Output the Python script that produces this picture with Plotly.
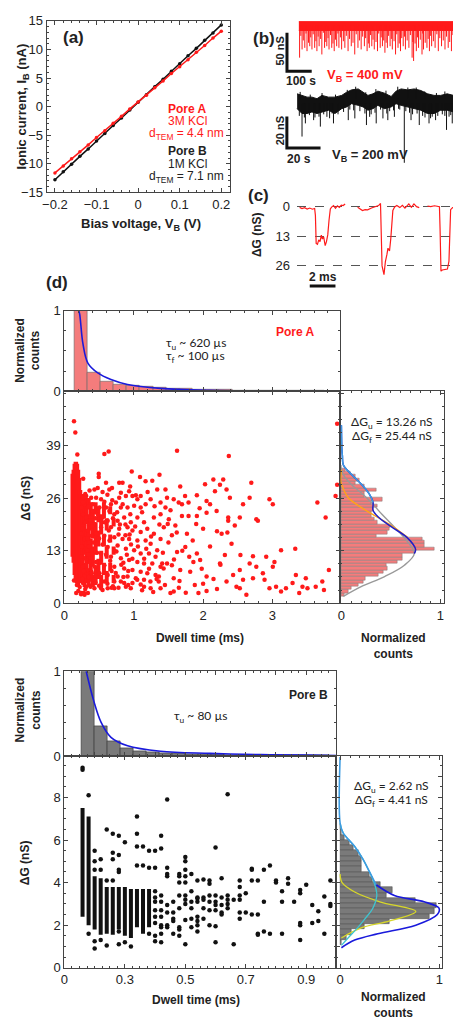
import plotly.graph_objects as go

W, H = 461, 1020
SANS = "Liberation Sans, Arial, sans-serif"
CAL = "Lato, Open Sans, sans-serif"
FRAME = "#444"

# ---------------- DATA ----------------
# (a) I-V curves
bias_V = [-0.2, -0.18, -0.16, -0.14, -0.12, -0.1, -0.08, -0.06, -0.04, -0.02, 0.0,
          0.02, 0.04, 0.06, 0.08, 0.1, 0.12, 0.14, 0.16, 0.18, 0.2]
poreA_I = [-11.6, -10.4, -9.1, -7.9, -6.7, -5.4, -4.2, -2.9, -1.7, -0.4, 0.8,
           2.0, 3.3, 4.5, 5.8, 7.0, 8.2, 9.5, 10.7, 12.0, 13.2]
poreB_I = [-12.8, -11.4, -10.1, -8.7, -7.4, -6.0, -4.7, -3.3, -2.0, -0.6, 0.75,
           2.1, 3.5, 4.8, 6.2, 7.5, 8.9, 10.2, 11.6, 12.9, 14.3]

# (b) red trace, 400 mV (time s, conductance change nS)
red_deep_t = [3, 13, 24, 33, 44, 53, 64, 73, 82, 93, 104, 113, 122, 133, 143, 153, 162, 173, 186, 199,
              212, 226, 239, 252, 265, 276, 285, 295, 305, 318, 329, 338, 348, 358, 369, 378, 391, 401, 411, 422,
              431, 445, 458, 464, 475, 484, 498, 504, 518, 528, 537, 551, 564, 577, 591, 604, 617, 630, 640, 648]
red_deep_g = [-46.4, -35.7, -33.6, -37.9, -31.5, -35.7, -33.6, -37.9, -31.5, -42.2, -33.6, -31.5, -35.7, -33.6, -37.9, -31.5, -33.6, -35.7, -33.6, -37.9,
              -31.5, -42.2, -33.6, -35.7, -31.5, -37.9, -33.6, -31.5, -35.7, -37.9, -33.6, -31.5, -40.0, -33.6, -31.5, -35.7, -42.2, -33.6, -37.9, -31.5,
              -35.7, -33.6, -46.4, -50.7, -37.9, -33.6, -42.2, -35.7, -33.6, -37.9, -31.5, -33.6, -37.9, -31.5, -35.7, -33.6, -37.9, -42.2, -35.7, -46.4]
red_shallow_t = [8, 18, 29, 39, 48, 58, 69, 78, 88, 99, 109, 118, 128, 138, 148, 158, 168, 180, 192, 205,
                 219, 232, 245, 258, 270, 281, 290, 300, 312, 323, 333, 343, 353, 363, 374, 385, 396, 406, 416, 427,
                 438, 451, 461, 470, 480, 491, 501, 511, 523, 533, 544, 558, 570, 584, 597, 610, 623, 635, 645]
red_shallow_g = [-18, -24, -15, -27, -20, -16, -25, -19, -22, -14, -26, -21, -17, -28, -23, -15, -20, -25, -18, -22,
                 -27, -16, -24, -19, -21, -28, -17, -23, -26, -15, -20, -24, -27, -18, -22, -25, -16, -28, -21, -19,
                 -24, -17, -26, -28, -20, -23, -15, -27, -22, -18, -25, -16, -21, -24, -19, -26, -17, -23, -20]
red_band_t = [0, 650]
red_band_top = [0.5, 0.5]
red_band_bot = [-11, -11]

# (b) black trace, 200 mV
blk_t = [0.2, 3.1, 6.1, 9.0, 12.0, 14.9, 18.8, 22.7, 26.7, 29.6, 32.5, 36.5, 39.4, 42.3, 45.3,
         48.2, 52.1, 56.1, 59.0, 62.0, 65.9, 69.8, 73.7, 77.7, 81.6, 85.5, 89.4, 93.3, 97.2]
blk_top = [0, -1.0, -2.1, -2.1, -3.1, -1.0, -2.1, -2.1, -1.0, 1.0, 2.5, 3.1, 1.0, -1.0, 0,
           1.7, 0.4, -1.7, 1.7, 3.1, 2.5, 3.1, 2.1, 0, -1.0, -1.0, 0, -1.0, -2.1]
blk_bot = [-9.4, -12.5, -12.5, -11.5, -12.5, -11.5, -10.4, -12.5, -9.4, -8.3, -6.25, -7.3, -8.3, -10.4, -9.4,
           -7.3, -9.4, -8.3, -6.25, -7.3, -8.3, -9.4, -10.4, -12.5, -12.5, -10.4, -10.4, -11.5, -10.4]
blk_spike_t = [3.1, 5.1, 10.0, 14.0, 17.9, 21.8, 30.6, 34.5, 41.4, 43.3, 47.2, 51.2, 54.1, 58.0, 63.9,
               67.9, 72.8, 78.6, 82.5, 89.0, 92.4, 96.2]
blk_spike_g = [-27.1, -18.75, -16.7, -20.8, -14.6, -18.75, -16.7, -15.6, -19.8, -14.6, -18.75, -15.6, -16.7, -14.6, -43.75,
               -16.7, -19.8, -18.75, -16.7, -22.9, -18.75, -15.6]
blk_noise_t = [1.5, 4.5, 7.5, 10.8, 13.2, 16.0, 19.5, 21.0, 24.5, 27.8, 31.5, 33.8, 37.5, 40.5, 44.2, 46.5, 49.8, 53.5, 55.2,
               57.5, 60.5, 61.2, 64.8, 67.0, 68.8, 71.5, 74.8, 76.2, 79.5, 80.5, 83.8, 86.5, 88.0, 90.5, 91.5, 94.5, 95.5]
blk_noise_g = [-14, -15, -13.5, -15, -14.5, -13, -15.5, -12.5, -13, -11.5, -10, -10.5, -11, -12.5, -13, -12, -10, -12.5, -11,
               -10.5, -9.5, -10, -11, -12, -13, -12.5, -14, -15, -15.5, -14.5, -14, -13, -14, -14.5, -13.5, -12.5, -13.5]
blk_up_t = [2, 8, 15, 23, 30, 35, 41, 47, 53, 60, 66, 71, 76, 83, 88, 94]
blk_up_g = [1.2, -0.5, 0.5, -0.5, 2.5, 4.5, 1, 3, 2, 4.5, 4, 4, 1.5, 0.5, 1.5, 0.5]

# (c) single events (time ms, ΔG nS)
ev1_t = [0.21, 0.4, 0.6, 0.8, 1.0, 1.2, 1.38, 1.44, 1.5, 1.6, 1.7, 1.8, 1.9, 1.98, 2.08, 2.2, 2.3, 2.4, 2.5, 2.6,
         2.7, 2.85, 3.0, 3.15, 3.3, 3.45, 3.6, 3.75]
ev1_g = [0.5, 1.0, 0.6, 1.2, 0.8, 1.3, 1.0, 4, 16.2, 16.6, 14.7, 15.4, 12.6, 14.3, 13.3, 17.2, 15.4, 12.5, 6, 1.2,
         0.4, -0.3, 0.9, -0.2, 0.5, -0.5, -0.3, -1.0]
ev2_t = [4.72, 4.9, 5.1, 5.3, 5.5, 5.8, 6.1, 6.35, 6.5, 6.56, 6.62, 6.77, 6.88, 7.0, 7.08, 7.2, 7.3, 7.46, 7.6, 7.77,
         8.0, 8.2, 8.4, 8.7, 8.9, 9.1, 9.3, 9.51]
ev2_g = [0.4, 1.1, 1.85, 1.5, 1.6, 0.8, 0.3, -0.3, -1.2, 8, 26, 29.8, 24.1, 21, 18.3, 19.5, 14, 1.8, 0.3, -0.3,
         0.6, -0.4, 0.8, -1.0, 0.5, -1.0, 0.2, 0.6]
ev3_t = [10.15, 10.4, 10.7, 10.9, 11.08, 11.13, 11.2, 11.3, 11.5, 11.7, 11.82, 11.95, 12.1, 12.3, 12.5, 12.7, 12.85]
ev3_g = [-0.1, 0.2, -0.2, 0.1, 0.2, 10, 28.3, 27.8, 27.6, 27.4, 24, 1.5, 0.6, 0.8, 1.1, 1.4, 1.8]

# (d) Pore A: dwell-time histogram (normalized)
histA_t_start = 0.138
histA_t_width = 0.19
histA_counts = [1.0, 0.235, 0.125, 0.09, 0.07, 0.055, 0.045, 0.04, 0.03, 0.025, 0.02, 0.018, 0.015, 0.012,
                0.01, 0.008, 0.006, 0.005, 0.004, 0.003]
fitA_t = [0.205, 0.219, 0.267, 0.338, 0.481, 0.671, 0.91, 1.386, 2.1, 3.0, 3.98]
fitA_c = [1.0, 0.96, 0.59, 0.35, 0.228, 0.146, 0.085, 0.037, 0.012, 0.003, 0.0]

# Pore A: ΔG histogram (bottom to top)
ghistA_start = 2.1
ghistA_width = 0.813
ghistA_counts = [0.03, 0.07, 0.10, 0.17, 0.22, 0.24, 0.37, 0.42, 0.47, 0.45, 0.57, 0.62, 0.62, 0.75, 0.94, 0.84,
                 0.84, 0.82, 0.353, 0.47, 0.49, 0.50, 0.36, 0.33, 0.30, 0.30, 0.32, 0.36, 0.30, 0.41, 0.237, 0.237,
                 0.353, 0.23, 0.137, 0.187, 0.137, 0.087, 0.037, 0.003]
gfitA_gray_c = [0.02, 0.2, 0.437, 0.637, 0.737, 0.66, 0.537, 0.41, 0.303, 0.2, 0.103, 0.02, 0.0]
gfitA_gray_g = [1.7, 4.1, 6.6, 9.4, 12.3, 15.5, 18.8, 22.0, 24.9, 27.3, 29.3, 31.8, 33.5]
gfitA_blue_c = [0.0, 0.005, 0.01, 0.02, 0.1, 0.2, 0.28, 0.32, 0.32, 0.37, 0.5, 0.67, 0.75, 0.737]
gfitA_blue_g = [44.0, 38.0, 36.5, 34.2, 31.9, 29.5, 27.1, 25.0, 23.0, 21.4, 19.0, 16.1, 13.3, 12.3]
gfitA_orange_c = [0.0, -0.005, 0.003, 0.07, 0.2, 0.37, 0.53, 0.67]
gfitA_orange_g = [33.0, 30.0, 29.3, 26.1, 23.7, 21.2, 18.8, 16.3]

# Pore A scatter: dense core columns (dwell ms, ΔG range nS)
A_core_t = [0.12, 0.135, 0.15, 0.165, 0.18, 0.195, 0.21, 0.225, 0.24]
A_core_lo = [11.5, 10, 7, 5.5, 5, 4.5, 5, 5.5, 5]
A_core_hi = [32, 33, 34.5, 35, 34.5, 33, 31, 28, 27]
# Pore A scatter: dense textured region (column segments)
A_mid_t = [0.26, 0.29, 0.29, 0.32, 0.32, 0.35, 0.35, 0.35, 0.38, 0.38, 0.41, 0.41, 0.41,
           0.45, 0.45, 0.45, 0.49, 0.49, 0.49, 0.53, 0.53, 0.53, 0.57, 0.57, 0.57,
           0.61, 0.61, 0.61, 0.66, 0.66, 0.66, 0.71, 0.71, 0.71]
A_mid_lo = [5, 4, 12, 5, 20, 4, 10, 24, 6, 18, 4, 9, 16,
            5, 12, 22, 6, 14, 20, 4, 10, 17, 7, 14, 21,
            5, 11, 18, 8, 15, 22, 5, 12, 19]
A_mid_hi = [27, 10, 26, 18, 26, 8, 22, 26, 16, 25, 7, 14, 23,
            9, 20, 25, 11, 18, 24, 7, 13, 22, 10, 17, 25,
            8, 14, 21, 10, 17, 24, 7, 14, 21]
# Pore A scatter: individual events
A_pts = [
    (0.457, 26.1), (0.529, 25.7), (0.576, 25.1), (0.41, 24.5), (0.505, 23.7), (0.6, 23.7), (0.671, 24.5), (0.743, 24.9),
    (0.79, 26.1), (0.886, 26.5), (0.981, 26.5), (1.052, 25.7), (0.648, 22.8), (0.719, 22.0), (0.814, 23.7), (0.91, 23.7),
    (1.005, 24.1), (1.1, 23.7), (0.481, 22.0), (0.552, 21.2), (0.624, 20.4), (0.767, 20.4), (0.862, 21.2), (0.957, 20.0),
    (1.052, 21.2), (1.148, 20.0), (0.433, 19.6), (0.529, 18.8), (0.671, 18.8), (0.79, 18.4), (0.91, 18.8), (0.981, 18.0),
    (1.1, 17.6), (1.195, 18.4), (1.29, 17.2), (0.457, 17.2), (0.576, 16.7), (0.719, 16.3), (0.838, 15.9), (0.933, 15.9),
    (1.052, 15.5), (1.171, 15.5), (1.243, 14.7), (0.481, 14.7), (0.624, 13.9), (0.767, 14.3), (0.886, 13.5), (1.005, 13.1),
    (1.1, 12.3), (1.219, 12.3), (1.314, 11.5), (0.529, 12.3), (0.671, 11.5), (0.814, 11.1), (0.933, 10.7), (1.052, 10.2),
    (1.148, 9.8), (1.267, 9.8), (0.457, 10.2), (0.576, 9.4), (0.719, 9.0), (0.862, 8.6), (0.981, 8.2), (1.1, 7.8),
    (1.195, 7.4), (1.314, 7.0), (0.505, 7.4), (0.624, 7.0), (0.767, 6.6), (0.91, 6.6), (1.029, 6.2), (1.148, 5.8),
    (0.386, 7.8), (0.433, 5.8), (0.576, 5.4), (0.719, 5.4), (0.862, 5.0), (0.981, 5.0), (1.1, 4.6), (1.243, 3.7),
    (1.362, 6.6), (1.41, 9.8), (1.338, 13.1), (1.386, 15.9), (1.433, 18.8), (1.29, 21.2), (1.386, 22.0), (1.457, 23.7),
    (0.267, 26.1), (0.314, 26.5), (0.386, 26.1), (0.29, 24.5), (0.338, 23.7), (0.41, 22.8), (0.267, 22.0), (0.314, 21.2),
    (0.376, 20.4), (0.281, 19.2), (0.338, 18.0), (0.395, 16.7), (0.29, 15.9), (0.362, 15.1), (0.267, 13.9), (0.329, 13.1),
    (0.395, 12.3), (0.29, 11.1), (0.362, 10.2), (0.267, 9.0), (0.329, 8.2), (0.395, 7.4), (0.29, 6.6), (0.362, 5.8),
    (0.267, 5.0), (0.314, 4.1), (0.243, 11.5), (0.243, 17.2), (0.243, 23.7),
    (0.26, 18.5), (0.3, 20.0), (0.33, 16.0), (0.35, 12.0), (0.28, 8.0), (0.32, 10.5), (0.36, 14.0), (0.4, 19.0),
    (0.42, 15.0), (0.44, 9.0), (0.27, 25.0), (0.3, 27.0), (0.35, 24.0), (0.45, 21.0), (0.47, 12.5), (0.5, 16.0),
    (0.52, 10.0), (0.55, 14.5), (0.58, 20.0), (0.6, 12.0), (0.65, 15.5), (0.68, 8.0), (0.7, 21.0), (0.75, 12.8),
    (0.8, 19.5), (0.85, 10.0), (0.9, 12.0), (0.95, 22.0), (0.25, 14.0), (0.26, 6.0), (0.3, 3.5), (0.35, 6.5),
    (0.4, 4.5), (0.45, 5.0), (0.5, 4.3), (0.55, 3.3), (0.62, 4.8), (0.7, 4.2), (0.78, 3.8), (0.85, 6.5),
    (0.24, 2.2), (0.28, 2.6), (0.2, 3.0), (0.17, 2.5), (0.22, 4.0), (0.18, 4.5),
    (0.138, 45.0), (0.157, 42.2), (0.186, 36.8), (0.576, 36.9), (0.638, 37.5), (0.495, 32.0), (0.495, 31.2), (0.971, 32.6),
    (1.09, 31.2), (1.371, 31.8), (0.838, 29.8), (0.79, 29.8), (0.6, 29.8), (0.686, 28.5), (1.267, 30.3), (1.17, 30.2),
    (0.948, 28.9), (0.271, 30.8), (0.433, 28.1), (0.362, 27.9), (0.48, 28.5), (0.648, 28.1), (0.814, 27.3), (0.933, 27.7),
    (1.03, 26.7), (1.1, 26.5), (0.138, 5.6), (0.29, 2.1), (0.338, 2.5), (0.243, 2.5),
    (0.433, 3.7), (0.529, 3.7), (0.624, 3.7), (0.719, 3.7), (0.886, 4.1), (0.957, 3.7), (1.05, 5.8), (1.148, 4.1),
    (1.24, 5.4), (1.386, 3.7), (1.36, 5.4), (0.376, 4.1), (0.814, 5.4),
    (1.338, 28.1), (1.457, 28.1), (1.67, 28.9), (2.028, 29.4), (1.91, 26.7), (2.05, 25.3), (1.243, 25.7), (1.171, 24.5),
    (1.48, 26.1), (1.386, 24.9), (1.576, 25.7), (1.648, 24.9), (1.695, 24.5), (1.79, 24.9), (1.695, 21.6), (1.79, 21.6),
    (1.91, 21.6), (1.505, 20.8), (1.6, 19.2), (1.49, 19.6), (1.9, 19.6), (2.0, 18.4), (2.05, 22.4), (1.767, 17.2),
    (1.743, 13.9), (1.91, 12.3), (1.957, 10.7), (1.624, 12.7), (1.48, 9.8), (1.386, 9.0), (1.55, 9.4), (1.43, 8.6),
    (1.86, 10.2), (2.05, 6.6), (1.814, 7.8), (1.67, 8.2), (1.576, 6.2), (1.529, 2.5), (1.576, 2.9), (1.933, 2.5),
    (1.624, 37.7),
    (2.148, 30.6), (2.29, 30.6), (2.243, 29.3), (2.338, 28.1), (2.171, 27.7), (2.386, 26.1), (2.1, 24.5), (2.195, 22.8),
    (2.362, 21.2), (2.362, 20.4), (2.457, 19.2), (2.529, 21.2), (2.576, 24.5), (2.671, 26.1), (2.695, 29.8), (2.79, 20.4),
    (2.767, 20.8), (2.267, 17.2), (2.41, 14.7), (2.314, 11.9), (2.243, 9.8), (2.433, 7.0), (2.338, 5.4), (2.481, 4.1),
    (2.529, 3.7), (2.576, 5.8), (2.624, 2.1), (2.371, 36.4), (2.529, 8.2), (2.671, 9.8), (2.767, 9.0), (2.886, 5.8),
    (2.957, 3.7), (3.052, 4.1), (3.124, 2.9), (3.195, 3.7), (3.29, 5.0), (3.338, 7.0), (3.386, 2.5), (3.433, 4.1),
    (3.481, 6.2), (3.505, 3.7), (3.624, 4.1), (3.719, 5.4), (3.743, 3.3), (3.814, 8.2), (3.767, 21.2), (3.91, 26.5),
    (3.933, 29.3), (3.648, 24.9), (3.329, 13.5), (3.124, 13.1), (3.005, 9.0), (3.029, 10.2), (2.91, 11.5), (2.719, 11.6),
    (2.538, 11.9), (2.957, 25.7), (3.005, 24.5), (2.862, 7.4), (2.719, 6.2), (3.933, 44.4),
    (2.2, 17.8), (2.35, 17.5), (2.1, 14.0), (2.0, 4.8), (2.25, 9.5), (2.15, 6.0), (2.05, 3.0), (2.2, 3.5),
    (1.02, 19.0), (1.06, 14.0), (1.12, 22.5), (1.15, 11.0), (1.2, 27.5), (1.22, 8.5), (1.25, 16.5), (1.3, 24.0),
    (1.33, 6.0), (1.37, 19.5), (1.42, 12.5), (1.45, 4.5), (1.5, 15.0), (1.53, 23.0), (1.58, 10.8), (1.62, 17.5),
    (1.66, 5.5), (1.7, 13.0), (1.74, 26.5), (1.8, 11.5), (1.85, 15.5), (1.88, 4.5), (1.95, 23.5), (1.98, 8.5),
    (1.12, 3.2), (1.28, 2.8), (1.65, 3.8), (1.75, 2.6), (1.18, 13.5), (1.55, 16.8),
    (0.62, 26.8), (0.66, 10.5), (0.72, 13.0), (0.74, 7.5), (0.78, 17.0), (0.82, 9.5), (0.84, 24.5), (0.88, 16.8),
    (0.92, 8.0), (0.96, 14.5), (0.98, 11.0), (0.64, 18.0), (0.69, 25.5), (0.76, 22.5), (0.88, 19.5), (0.94, 17.0),
    (0.68, 3.8), (0.92, 4.5), (0.6, 7.5), (0.55, 27.5),
]

# (d) Pore B: dwell-time histogram
histB_t_start = 0.155
histB_t_width = 0.043
histB_counts = [1.0, 0.35, 0.176, 0.09, 0.06, 0.045, 0.035, 0.03, 0.022, 0.018, 0.015, 0.012, 0.01, 0.008,
                0.006, 0.005, 0.004, 0.003, 0.003, 0.002]
fitB_t = [0.172, 0.197, 0.221, 0.254, 0.309, 0.418, 0.582, 0.75, 0.9, 1.0]
fitB_c = [1.0, 0.65, 0.40, 0.22, 0.12, 0.055, 0.03, 0.015, 0.01, 0.005]

# Pore B: ΔG histogram (bottom to top)
ghistB_start = 1.19
ghistB_width = 0.247
ghistB_counts = [0.013, 0.06, 0.11, 0.25, 0.50, 0.90, 0.95, 0.97, 0.76, 0.47, 0.53, 0.41, 0.33, 0.30, 0.22,
                 0.21, 0.21, 0.18, 0.13, 0.097, 0.047, 0.013, 0.005]
gfitB_blue_c = [0.013, 0.147, 0.38, 0.763, 0.98, 0.997, 0.847, 0.547, 0.363]
gfitB_blue_g = [0.94, 1.3, 1.6, 2.0, 2.5, 2.8, 3.1, 3.4, 3.9]
gfitB_lblue_c = [0.363, 0.297, 0.23, 0.147, 0.03, 0.0, 0.0]
gfitB_lblue_g = [3.9, 4.5, 5.1, 5.7, 6.34, 6.8, 9.9]
gfitB_cyan_c = [0.0, 0.03, 0.147, 0.23, 0.297, 0.35, 0.37, 0.33, 0.25, 0.18, 0.08, 0.013]
gfitB_cyan_g = [6.8, 6.34, 5.7, 5.1, 4.5, 3.9, 3.4, 2.8, 2.3, 1.9, 1.4, 1.05]
gfitB_yellow_c = [0.0, 0.02, 0.147, 0.4, 0.763, 0.5, 0.213, 0.013]
gfitB_yellow_g = [4.4, 4.0, 3.56, 3.1, 2.64, 2.2, 1.87, 1.4]

# Pore B scatter: dense columns
B_dense_t = [0.16, 0.18, 0.20, 0.22, 0.24, 0.26, 0.28, 0.30, 0.32, 0.34, 0.36, 0.38]
B_dense_lo = [2.4, 2.0, 1.8, 1.55, 1.6, 1.55, 1.8, 1.5, 1.4, 1.9, 1.6, 1.9]
B_dense_hi = [7.5, 7.1, 4.3, 4.2, 3.8, 3.8, 3.8, 3.8, 3.7, 3.7, 3.7, 3.7]
# Pore B scatter: sparse events per dwell-time column
B_col_t = [0.16, 0.18, 0.20, 0.22, 0.24, 0.26, 0.28, 0.30, 0.32, 0.34, 0.36, 0.38, 0.40, 0.42,
           0.44, 0.46, 0.48, 0.50, 0.52, 0.54, 0.56, 0.58, 0.60, 0.62, 0.64, 0.66, 0.68, 0.70,
           0.72, 0.74, 0.76, 0.78, 0.80, 0.82, 0.84, 0.86, 0.88, 0.90, 0.92, 0.94, 0.96, 0.98]
B_col_g = [[9.4, 9.3], [8.1, 1.6], [5.5, 5.0, 4.6, 1.25, 0.9], [5.1, 4.6, 1.3], [6.5, 4.1, 1.05],
           [6.3, 5.4, 5.1, 4.1], [6.2, 5.3, 4.6, 4.5, 1.7, 1.1], [5.9, 1.2], [1.0], [7.1, 6.3, 5.7, 4.8],
           [5.7, 4.8], [5.5, 4.7, 1.6], [5.5, 4.7, 3.6, 3.3, 3.1, 2.7, 2.4, 2.1, 1.5, 1.25],
           [6.2, 5.6, 3.4, 3.1, 2.7, 2.4, 2.0, 1.9, 1.6, 1.2], [7.9, 4.7, 4.4, 4.3, 2.95, 2.6, 2.0, 1.9],
           [3.1, 2.6, 2.3, 2.2, 1.6], [4.4, 4.3, 4.0, 3.4, 2.8, 1.9, 1.8, 1.5],
           [5.2, 5.0, 4.6, 4.3, 4.0, 3.4, 3.2, 3.0, 2.25, 1.1], [4.4, 3.6, 3.1, 2.8, 2.3, 1.9],
           [4.1, 3.3, 3.25, 3.1, 2.4, 2.2, 2.0, 1.7], [4.15, 3.3, 3.2, 2.8, 2.3], [4.1, 3.95, 3.4, 3.1, 2.7, 2.0],
           [5.65, 3.4, 3.1, 2.95, 2.7, 1.95, 1.2], [4.2, 3.3, 2.95, 2.6, 2.5], [8.15, 3.4, 3.2, 3.0, 2.8],
           [3.2, 1.1], [4.1, 3.8, 3.4, 3.2, 2.6, 2.3], [3.5, 2.6], [4.65, 4.6, 4.1, 2.5], [4.1, 2.5, 1.6, 1.55],
           [4.6, 3.1, 1.7], [4.8, 1.6], [4.1, 4.0], [3.6, 3.1, 1.6], [4.2, 3.95], [3.1], [3.65, 3.5, 2.1, 2.0, 1.3],
           [3.9], [2.95, 2.1], [2.65, 2.2], [3.35, 1.6], [4.1, 3.0, 2.9]]

# scale bars (data units)
red_bar_s, red_bar_ns = 100, 50
blk_bar_s, blk_bar_ns = 20, 20
ev_bar_ms = 2

# ---------------- HELPERS ----------------
def dx(a, b):
    return [a / W, b / W]

def dy(top, bottom):
    return [1 - bottom / H, 1 - top / H]

def fax(domain, rng, anchor, labels=True, minor=None, **kw):
    d = dict(domain=domain, range=rng, anchor=anchor, showline=True, linecolor=FRAME, linewidth=1,
             mirror="ticks", ticks="inside", ticklen=4, tickwidth=1, tickcolor=FRAME, showgrid=False,
             zeroline=False, showticklabels=labels,
             tickfont=dict(family=SANS, size=13, color="#222"))
    if minor is not None:
        d["minor"] = dict(ticks="inside", ticklen=2, tickcolor=FRAME, dtick=minor, showgrid=False)
    d.update(kw)
    return d

def hidden(domain, rng, anchor):
    return dict(domain=domain, range=rng, anchor=anchor, visible=False, showgrid=False, zeroline=False)

def segs(ts, lo, hi):
    xs, ys = [], []
    for t, a, b in zip(ts, lo, hi):
        xs += [t, t, None]
        ys += [a, b, None]
    return xs, ys

def ann(text, x, y, size=12, color="#222", bold=False, angle=0, family=SANS, xanchor="center"):
    return dict(text=f"<b>{text}</b>" if bold else text, x=x / W, y=1 - y / H, xref="paper", yref="paper",
                showarrow=False, textangle=angle, xanchor=xanchor, yanchor="middle",
                font=dict(size=size, color=color, family=family))

RED = "#ff1a1a"
fig = go.Figure()

# ---- (a) ----
fig.add_trace(go.Scatter(x=bias_V, y=poreB_I, mode="lines+markers", line=dict(color="#111", width=1.5),
                         marker=dict(size=3.5, color="#111"), xaxis="x", yaxis="y"))
fig.add_trace(go.Scatter(x=bias_V, y=poreA_I, mode="lines+markers", line=dict(color=RED, width=1.5),
                         marker=dict(size=3.5, color=RED), xaxis="x", yaxis="y"))

# ---- (b) red ----
fig.add_trace(go.Scatter(x=red_band_t, y=red_band_top, mode="lines", line=dict(color=RED, width=1),
                         xaxis="x2", yaxis="y2"))
fig.add_trace(go.Scatter(x=red_band_t, y=red_band_bot, mode="lines", line=dict(color=RED, width=1),
                         fill="tonexty", fillcolor=RED, xaxis="x2", yaxis="y2"))
sx, sy = segs(red_shallow_t, [-5] * len(red_shallow_t), red_shallow_g)
fig.add_trace(go.Scatter(x=sx, y=sy, mode="lines", line=dict(color=RED, width=1), xaxis="x2", yaxis="y2"))
sx, sy = segs(red_deep_t, [-5] * len(red_deep_t), red_deep_g)
fig.add_trace(go.Scatter(x=sx, y=sy, mode="lines", line=dict(color=RED, width=1), xaxis="x2", yaxis="y2"))
rb_x0, rb_y0 = -48, -64
fig.add_trace(go.Scatter(x=[rb_x0, rb_x0, rb_x0 + red_bar_s], y=[rb_y0 + red_bar_ns, rb_y0, rb_y0],
                         mode="lines", line=dict(color="#111", width=3), xaxis="x2", yaxis="y2"))

# ---- (b) black ----
fig.add_trace(go.Scatter(x=blk_t, y=blk_top, mode="lines", line=dict(color="#111", width=1),
                         xaxis="x3", yaxis="y3"))
fig.add_trace(go.Scatter(x=blk_t, y=blk_bot, mode="lines", line=dict(color="#111", width=1),
                         fill="tonexty", fillcolor="#111", xaxis="x3", yaxis="y3"))
sx, sy = segs(blk_noise_t, [-6] * len(blk_noise_t), blk_noise_g)
fig.add_trace(go.Scatter(x=sx, y=sy, mode="lines", line=dict(color="#111", width=1), xaxis="x3", yaxis="y3"))
sx, sy = segs(blk_up_t, [-3] * len(blk_up_t), blk_up_g)
fig.add_trace(go.Scatter(x=sx, y=sy, mode="lines", line=dict(color="#111", width=1), xaxis="x3", yaxis="y3"))
sx, sy = segs(blk_spike_t, [-6] * len(blk_spike_t), blk_spike_g)
fig.add_trace(go.Scatter(x=sx, y=sy, mode="lines", line=dict(color="#111", width=1), xaxis="x3", yaxis="y3"))
bb_x0, bb_y0 = -5.9, -34.4
fig.add_trace(go.Scatter(x=[bb_x0, bb_x0, bb_x0 + blk_bar_s], y=[bb_y0 + blk_bar_ns, bb_y0, bb_y0],
                         mode="lines", line=dict(color="#111", width=3), xaxis="x3", yaxis="y3"))

# ---- (c) ----
for et, eg in ((ev1_t, ev1_g), (ev2_t, ev2_g), (ev3_t, ev3_g)):
    fig.add_trace(go.Scatter(x=et, y=eg, mode="lines", line=dict(color=RED, width=1.2), xaxis="x4", yaxis="y4"))
fig.add_trace(go.Scatter(x=[1.0, 1.0 + ev_bar_ms], y=[34.8, 34.8], mode="lines",
                         line=dict(color="#111", width=3), xaxis="x4", yaxis="y4"))

# ---- (d) Pore A ----
cA = [histA_t_start + histA_t_width * (i + 0.5) for i in range(len(histA_counts))]
fig.add_trace(go.Bar(x=cA, y=histA_counts, width=histA_t_width, marker=dict(color="#f47c7c",
                     line=dict(color="#666", width=0.6)), xaxis="x5", yaxis="y5"))
fig.add_trace(go.Scatter(x=fitA_t, y=fitA_c, mode="lines", line=dict(color="#1a1adb", width=1.6, shape="spline"),
                         xaxis="x5", yaxis="y5"))
sx, sy = segs(A_core_t, A_core_lo, A_core_hi)
fig.add_trace(go.Scatter(x=sx, y=sy, mode="lines", line=dict(color=RED, width=4.5), xaxis="x6", yaxis="y6"))
sx, sy = segs(A_mid_t, A_mid_lo, A_mid_hi)
fig.add_trace(go.Scatter(x=sx, y=sy, mode="lines", line=dict(color=RED, width=4), xaxis="x6", yaxis="y6"))
fig.add_trace(go.Scatter(x=[p[0] for p in A_pts], y=[p[1] for p in A_pts], mode="markers",
                         marker=dict(size=4.5, color=RED), xaxis="x6", yaxis="y6", cliponaxis=False))
gA = [ghistA_start + ghistA_width * i for i in range(len(ghistA_counts))]
fig.add_trace(go.Bar(y=gA, x=ghistA_counts, orientation="h", width=ghistA_width,
                     marker=dict(color="#f47c7c", line=dict(color="#777", width=0.5)), xaxis="x7", yaxis="y7"))
fig.add_trace(go.Scatter(x=gfitA_gray_c, y=gfitA_gray_g, mode="lines", line=dict(color="#999", width=1.4, shape="spline"),
                         xaxis="x7", yaxis="y7"))
fig.add_trace(go.Scatter(x=gfitA_orange_c, y=gfitA_orange_g, mode="lines",
                         line=dict(color="#ffa31a", width=1.4, shape="spline"), xaxis="x7", yaxis="y7"))
fig.add_trace(go.Scatter(x=gfitA_blue_c, y=gfitA_blue_g, mode="lines", line=dict(color="#2020c8", width=1.5, shape="spline"),
                         xaxis="x7", yaxis="y7"))
fig.add_trace(go.Scatter(x=gfitA_blue_c[:8], y=gfitA_blue_g[:8], mode="lines",
                         line=dict(color="#3d9be0", width=1.5, shape="spline"), xaxis="x7", yaxis="y7"))

# ---- (d) Pore B ----
cB = [histB_t_start + histB_t_width * (i + 0.5) for i in range(len(histB_counts))]
fig.add_trace(go.Bar(x=cB, y=histB_counts, width=histB_t_width, marker=dict(color="#7a7a7a",
                     line=dict(color="#333", width=0.6)), xaxis="x8", yaxis="y8"))
fig.add_trace(go.Scatter(x=fitB_t, y=fitB_c, mode="lines", line=dict(color="#1a1adb", width=1.6, shape="spline"),
                         xaxis="x8", yaxis="y8"))
sx, sy = segs(B_dense_t, B_dense_lo, B_dense_hi)
fig.add_trace(go.Scatter(x=sx, y=sy, mode="lines", line=dict(color="#111", width=4), xaxis="x9", yaxis="y9"))
bx, by = [], []
for t, gs in zip(B_col_t, B_col_g):
    bx += [t] * len(gs)
    by += gs
fig.add_trace(go.Scatter(x=bx, y=by, mode="markers", marker=dict(size=4.5, color="#111"), xaxis="x9", yaxis="y9"))
gB = [ghistB_start + ghistB_width * i for i in range(len(ghistB_counts))]
fig.add_trace(go.Bar(y=gB, x=ghistB_counts, orientation="h", width=ghistB_width,
                     marker=dict(color="#7a7a7a", line=dict(color="#444", width=0.5)), xaxis="x10", yaxis="y10"))
fig.add_trace(go.Scatter(x=gfitB_yellow_c, y=gfitB_yellow_g, mode="lines",
                         line=dict(color="#d6d62a", width=1.3, shape="spline"), xaxis="x10", yaxis="y10"))
fig.add_trace(go.Scatter(x=gfitB_cyan_c, y=gfitB_cyan_g, mode="lines",
                         line=dict(color="#3fc4cf", width=1.3, shape="spline"), xaxis="x10", yaxis="y10"))
fig.add_trace(go.Scatter(x=gfitB_blue_c, y=gfitB_blue_g, mode="lines",
                         line=dict(color="#1a1adb", width=1.6, shape="spline"), xaxis="x10", yaxis="y10"))
fig.add_trace(go.Scatter(x=gfitB_lblue_c, y=gfitB_lblue_g, mode="lines",
                         line=dict(color="#3d9be0", width=1.6, shape="spline"), xaxis="x10", yaxis="y10"))

# ---------------- LAYOUT ----------------
layout = dict(
    width=W, height=H, margin=dict(l=0, r=0, t=0, b=0), paper_bgcolor="white", plot_bgcolor="white",
    showlegend=False, bargap=0,
    xaxis=fax(dx(35, 220), [-0.22, 0.22], "y", minor=0.02, dtick=0.1, tick0=0),
    yaxis=fax(dy(6, 180), [-15, 15], "x", minor=1, dtick=5, tick0=0),
    xaxis2=hidden(dx(275, 458), [-60, 672], "y2"),
    yaxis2=hidden(dy(4, 60), [-67.8, 4], "x2"),
    xaxis3=hidden(dx(275, 458), [-7.6, 100], "y3"),
    yaxis3=hidden(dy(70, 152), [-45, 6.25], "x3"),
    xaxis4=hidden(dx(288, 461), [0, 13.3], "y4"),
    yaxis4=dict(domain=dy(185, 280), range=[36.9, -3.9], anchor="x4", showline=False, zeroline=False,
                tickmode="array", tickvals=[0, 13, 26], ticks="", showgrid=True, gridcolor="#555",
                griddash="dash", gridwidth=1, ticklabelstandoff=6,
                tickfont=dict(family=SANS, size=13, color="#222")),
    xaxis5=fax(dx(53, 332), [0, 3.98], "y5", labels=False, minor=0.2, dtick=1, tick0=0),
    yaxis5=fax(dy(300, 382), [0, 1.0], "x5", minor=0.25, tickmode="array", tickvals=[0, 1]),
    xaxis6=fax(dx(53, 332), [0, 3.98], "y6", minor=0.2, tickmode="array", tickvals=[0, 1, 2, 3]),
    yaxis6=fax(dy(382, 597), [0, 52.4], "x6", minor=3.25, tickmode="array", tickvals=[0, 13, 26, 39]),
    xaxis7=fax(dx(332, 437), [-0.01, 1.04], "y7", minor=0.1, tickmode="array", tickvals=[0, 1]),
    yaxis7=fax(dy(382, 597), [0, 52.4], "x7", labels=False, minor=3.25, dtick=13, tick0=0),
    xaxis8=fax(dx(53, 328), [0.1, 1.0], "y8", labels=False, minor=0.025, dtick=0.1, tick0=0.1),
    yaxis8=fax(dy(666, 752), [0, 1.0], "x8", minor=0.2, tickmode="array", tickvals=[0, 1]),
    xaxis9=fax(dx(53, 328), [0.1, 1.0], "y9", minor=0.025, tickmode="array",
               tickvals=[0.1, 0.3, 0.5, 0.7, 0.9], ticktext=["0", "0.3", "0.5", "0.7", "0.9"]),
    yaxis9=fax(dy(752, 967), [0, 9.95], "x9", minor=0.5, dtick=2, tick0=0),
    xaxis10=fax(dx(328, 435), [-0.037, 1.03], "y10", minor=0.1, tickmode="array", tickvals=[0, 1]),
    yaxis10=fax(dy(752, 967), [0, 9.95], "x10", labels=False, minor=0.5, dtick=1, tick0=0),
)

annotations = [
    ann("(a)", 62, 23, size=17, bold=True),
    ann("Ionic current, I<sub>B</sub> (nA)", 11, 93, size=13, bold=True, angle=-90),
    ann("Bias voltage, V<sub>B</sub> (V)", 130, 213, size=13, bold=True),
    ann("Pore A", 177, 95, size=12, color=RED, bold=True),
    ann("3M KCl", 177, 108, size=12, color=RED),
    ann("d<sub>TEM</sub> = 4.4 nm", 176, 121, size=12, color=RED),
    ann("Pore B", 177, 138, size=12, bold=True),
    ann("1M KCl", 177, 151, size=12),
    ann("d<sub>TEM</sub> = 7.1 nm", 176, 164, size=12),
    ann("(b)", 255, 24, size=17, bold=True),
    ann("50 nS", 271, 37, size=11, bold=True, angle=-90),
    ann("100 s", 292, 67, size=12, bold=True),
    ann("V<sub>B</sub> = 400 mV", 357, 61, size=13, color=RED, bold=True),
    ann("20 nS", 271, 118, size=11, bold=True, angle=-90),
    ann("20 s", 290, 146, size=12, bold=True),
    ann("V<sub>B</sub> = 200 mV", 362, 143, size=13, bold=True),
    ann("(c)", 249, 183, size=17, bold=True),
    ann("ΔG (nS)", 247, 223, size=12, bold=True, angle=-90),
    ann("2 ms", 314, 266, size=12, bold=True),
    ann("(d)", 45, 272, size=17, bold=True),
    ann("Normalized<br>counts", 16, 340, size=12, bold=True, angle=-90),
    ann("ΔG (nS)", 14, 490, size=12, bold=True, angle=-90),
    ann("Dwell time (ms)", 190, 632, size=12, bold=True),
    ann("τ<sub>u</sub> ~ 620 µs", 186, 333, size=12, family=CAL),
    ann("τ<sub>f</sub> ~ 100 µs", 186, 347, size=12, family=CAL),
    ann("Pore A", 287, 322, size=12, color=RED, bold=True),
    ann("ΔG<sub>u</sub> = 13.26 nS", 384, 414, size=12, family=CAL),
    ann("ΔG<sub>f</sub> = 25.44 nS", 384, 428, size=12, family=CAL),
    ann("Normalized<br>counts", 386, 640, size=12, bold=True),
    ann("Pore B", 300, 690, size=12, bold=True),
    ann("τ<sub>u</sub> ~ 80 µs", 191, 712, size=12, family=CAL),
    ann("Normalized<br>counts", 16, 705, size=12, bold=True, angle=-90),
    ann("ΔG (nS)", 14, 860, size=12, bold=True, angle=-90),
    ann("Dwell time (ms)", 186, 1000, size=12, bold=True),
    ann("ΔG<sub>u</sub> = 2.62 nS", 384, 783, size=12, family=CAL),
    ann("ΔG<sub>f</sub> = 4.41 nS", 384, 797, size=12, family=CAL),
    ann("Normalized<br>counts", 386, 1005, size=12, bold=True),
]
layout["annotations"] = annotations
fig.update_layout(**layout)
fig.write_html("out.html")
